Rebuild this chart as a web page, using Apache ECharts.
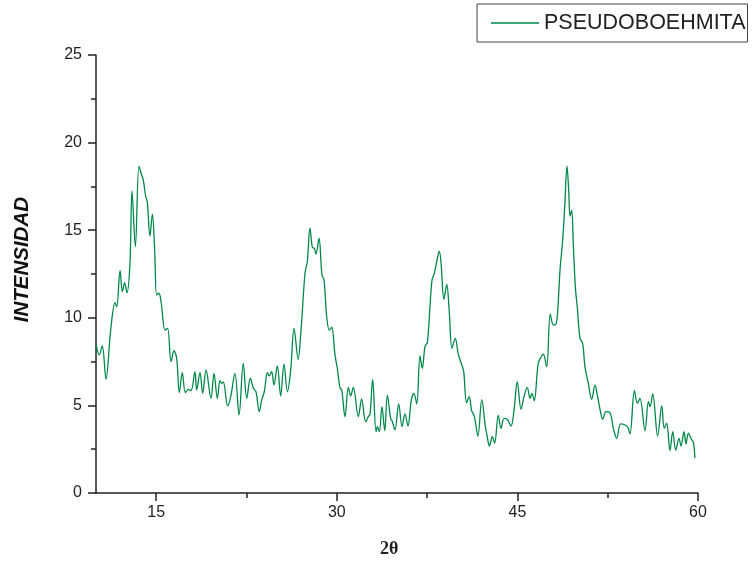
<!DOCTYPE html>
<html>
<head>
<meta charset="utf-8">
<script src="https://cdn.jsdelivr.net/npm/echarts@6/dist/echarts.min.js"></script>
<style>
html,body{margin:0;padding:0;background:#fff;}
#c{width:754px;height:561px;}
</style>
</head>
<body>
<div id="c"></div>
<script>
var seriesName = 'PSEUDOBOEHMITA';
var xTickValues = [15, 30, 45, 60];
var xMinorTickValues = [22.5, 37.5, 52.5];
var twoTheta = [10.00,10.27,10.52,10.83,11.22,11.58,11.72,12.00,12.19,12.38,12.57,12.82,12.99,13.27,13.57,13.79,13.93,14.13,14.26,14.48,14.68,14.87,15.04,15.23,15.42,15.73,15.95,16.23,16.48,16.70,16.92,17.17,17.42,17.67,17.89,18.22,18.36,18.64,18.86,19.14,19.55,19.80,20.08,20.30,20.44,20.57,20.94,21.19,21.54,21.88,22.23,22.52,22.82,23.07,23.29,23.56,23.76,23.98,24.23,24.39,24.59,24.78,25.06,25.34,25.61,25.90,26.17,26.45,26.79,27.03,27.36,27.55,27.77,27.97,28.13,28.27,28.52,28.77,28.94,29.16,29.38,29.58,29.85,30.04,30.27,30.41,30.68,30.96,31.15,31.37,31.79,32.06,32.40,32.62,32.76,32.98,33.26,33.37,33.53,33.75,33.98,34.20,34.47,34.60,34.83,35.14,35.42,35.66,35.91,36.19,36.41,36.64,36.91,37.10,37.33,37.52,37.74,37.91,38.10,38.30,38.51,38.65,38.90,39.13,39.34,39.57,39.84,40.09,40.45,40.55,40.78,41.00,41.20,41.42,41.72,42.04,42.34,42.50,42.67,42.92,43.11,43.41,43.64,43.89,44.16,44.47,44.72,44.99,45.30,45.55,45.82,46.05,46.21,46.40,46.73,47.01,47.15,47.43,47.73,47.98,48.15,48.31,48.54,48.76,48.93,49.12,49.26,49.37,49.51,49.64,49.81,49.97,50.20,50.42,50.61,50.89,51.17,51.45,51.64,51.86,52.09,52.36,52.69,52.97,53.25,53.58,53.94,54.17,54.35,54.72,54.97,55.18,55.60,55.88,56.02,56.24,56.65,56.99,57.20,57.40,57.67,57.90,58.15,58.42,58.59,58.84,59.00,59.20,59.48,59.61,59.75];
var intensity = [8.54,7.88,8.39,6.49,9.30,10.86,10.63,12.69,11.49,12.00,11.43,13.10,17.25,14.06,18.66,18.15,17.86,16.91,16.63,14.67,15.92,13.87,11.30,11.40,10.83,9.30,9.40,7.50,8.12,7.69,5.73,6.87,5.73,5.92,5.84,6.92,5.88,6.87,5.69,7.02,5.40,6.83,5.40,6.41,6.26,6.34,4.97,5.50,6.83,4.45,7.40,5.40,6.55,5.98,5.78,4.64,5.31,5.78,6.87,6.68,6.92,6.16,7.25,5.54,7.36,5.78,7.02,9.40,7.63,9.30,12.54,13.20,15.11,14.02,13.97,13.64,14.54,12.44,12.16,10.06,9.30,9.46,7.88,7.12,5.98,5.88,4.36,6.03,5.54,6.03,4.36,5.37,4.07,4.36,4.50,6.49,3.50,3.79,3.50,4.93,3.56,5.59,4.26,4.10,3.60,5.08,3.79,4.51,3.82,5.31,5.69,5.08,7.82,7.12,8.39,8.58,10.63,12.16,12.54,13.20,13.81,13.20,11.06,11.91,10.35,8.26,8.83,7.93,7.17,6.90,5.15,5.50,4.70,4.39,3.25,5.33,3.79,3.21,2.68,3.21,2.84,4.45,3.69,4.26,4.20,3.82,4.74,6.35,4.78,5.50,6.03,5.40,5.69,5.27,7.40,7.82,7.93,7.21,10.22,9.59,9.60,10.06,12.73,14.44,16.34,18.66,17.29,15.81,16.15,14.25,11.78,10.63,8.83,8.54,7.21,6.26,5.35,6.16,5.59,4.78,4.20,4.64,4.58,3.69,3.12,3.94,3.88,3.75,3.37,5.84,5.12,5.40,3.54,5.21,4.93,5.65,3.25,4.97,3.69,3.98,2.42,3.50,2.45,3.12,2.68,3.50,2.80,3.41,3.03,2.93,1.98];

var pts = twoTheta.map(function (x, i) { return [x, intensity[i]]; });
var FONT = '"Liberation Sans", Arial, sans-serif';
var axisColor = '#222';
var lineColor = '#00884a';

var chart = echarts.init(document.getElementById('c'), null, {renderer: 'canvas'});
chart.setOption({
  animation: false,
  backgroundColor: '#fff',
  grid: {left: 96, right: 56, top: 55, bottom: 68, containLabel: false},
  legend: {
    data: [seriesName],
    left: 477, top: 4,
    padding: [8, 2, 8, 14],
    borderColor: '#444', borderWidth: 1, borderRadius: 0,
    icon: 'rect',
    itemWidth: 48, itemHeight: 1.3, itemGap: 7,
    textStyle: {fontFamily: FONT, fontSize: 21.5, color: '#222', lineHeight: 21}
  },
  xAxis: [{
    type: 'value', min: 10, max: 60,
    axisLine: {show: true, onZero: false, lineStyle: {color: axisColor, width: 1.5}},
    axisTick: {show: true, length: 8, customValues: xTickValues, lineStyle: {color: axisColor, width: 1.5}},
    axisLabel: {show: true, customValues: xTickValues, margin: 12, fontFamily: FONT, fontSize: 16, color: '#222'},
    splitLine: {show: false}
  }, {
    type: 'value', min: 10, max: 60, position: 'bottom',
    axisLine: {show: false},
    axisTick: {show: true, length: 5, customValues: xMinorTickValues, lineStyle: {color: axisColor, width: 1.5}},
    axisLabel: {show: false},
    splitLine: {show: false}
  }],
  yAxis: {
    type: 'value', min: 0, max: 25, interval: 5,
    axisLine: {show: true, onZero: false, lineStyle: {color: axisColor, width: 1.5}},
    axisTick: {show: true, length: 8, lineStyle: {color: axisColor, width: 1.5}},
    minorTick: {show: true, splitNumber: 2, length: 5, lineStyle: {color: axisColor, width: 1.5}},
    axisLabel: {margin: 14, fontFamily: FONT, fontSize: 16, color: '#222'},
    splitLine: {show: false}
  },
  graphic: [{
    type: 'text', left: 12, top: 197, rotation: Math.PI / 2,
    style: {text: 'INTENSIDAD', fontFamily: FONT, fontSize: 20.5, fontWeight: 'bold', fontStyle: 'italic', fill: '#111'}
  }, {
    type: 'text', left: 380, top: 540,
    style: {text: '2θ', fontFamily: '"Liberation Serif", "DejaVu Serif", serif', fontSize: 18, fontWeight: 'bold', fill: '#222'}
  }],
  series: [{
    name: seriesName, type: 'line', data: pts,
    symbol: 'none', smooth: 0.35,
    lineStyle: {color: lineColor, width: 1.3},
    itemStyle: {color: lineColor}
  }]
});
</script>
</body>
</html>
